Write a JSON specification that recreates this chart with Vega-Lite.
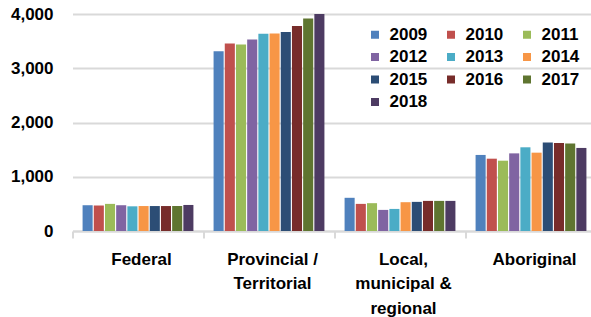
{
  "$schema": "https://vega.github.io/schema/vega-lite/v6.json",
  "width": 519,
  "height": 217,
  "autosize": "none",
  "padding": {"left": 72.5, "top": 14, "right": 0, "bottom": 86},
  "background": "white",
  "data": {
    "values": [
      {"sector": "Federal", "year": "2009", "value": 475},
      {"sector": "Federal", "year": "2010", "value": 470},
      {"sector": "Federal", "year": "2011", "value": 500},
      {"sector": "Federal", "year": "2012", "value": 475},
      {"sector": "Federal", "year": "2013", "value": 455},
      {"sector": "Federal", "year": "2014", "value": 460},
      {"sector": "Federal", "year": "2015", "value": 460},
      {"sector": "Federal", "year": "2016", "value": 460},
      {"sector": "Federal", "year": "2017", "value": 460},
      {"sector": "Federal", "year": "2018", "value": 480},
      {"sector": "Provincial /|Territorial", "year": "2009", "value": 3315},
      {"sector": "Provincial /|Territorial", "year": "2010", "value": 3455},
      {"sector": "Provincial /|Territorial", "year": "2011", "value": 3437},
      {"sector": "Provincial /|Territorial", "year": "2012", "value": 3529},
      {"sector": "Provincial /|Territorial", "year": "2013", "value": 3634},
      {"sector": "Provincial /|Territorial", "year": "2014", "value": 3640},
      {"sector": "Provincial /|Territorial", "year": "2015", "value": 3670},
      {"sector": "Provincial /|Territorial", "year": "2016", "value": 3781},
      {"sector": "Provincial /|Territorial", "year": "2017", "value": 3915},
      {"sector": "Provincial /|Territorial", "year": "2018", "value": 4000},
      {"sector": "Local,|municipal &|regional", "year": "2009", "value": 612},
      {"sector": "Local,|municipal &|regional", "year": "2010", "value": 500},
      {"sector": "Local,|municipal &|regional", "year": "2011", "value": 513},
      {"sector": "Local,|municipal &|regional", "year": "2012", "value": 389},
      {"sector": "Local,|municipal &|regional", "year": "2013", "value": 407},
      {"sector": "Local,|municipal &|regional", "year": "2014", "value": 531},
      {"sector": "Local,|municipal &|regional", "year": "2015", "value": 537},
      {"sector": "Local,|municipal &|regional", "year": "2016", "value": 555},
      {"sector": "Local,|municipal &|regional", "year": "2017", "value": 555},
      {"sector": "Local,|municipal &|regional", "year": "2018", "value": 555},
      {"sector": "Aboriginal", "year": "2009", "value": 1402},
      {"sector": "Aboriginal", "year": "2010", "value": 1333},
      {"sector": "Aboriginal", "year": "2011", "value": 1296},
      {"sector": "Aboriginal", "year": "2012", "value": 1431},
      {"sector": "Aboriginal", "year": "2013", "value": 1543},
      {"sector": "Aboriginal", "year": "2014", "value": 1444},
      {"sector": "Aboriginal", "year": "2015", "value": 1630},
      {"sector": "Aboriginal", "year": "2016", "value": 1624},
      {"sector": "Aboriginal", "year": "2017", "value": 1611},
      {"sector": "Aboriginal", "year": "2018", "value": 1531}
    ]
  },
  "mark": {"type": "bar"},
  "encoding": {
    "x": {
      "field": "sector",
      "type": "nominal",
      "sort": ["Federal", "Provincial /|Territorial", "Local,|municipal &|regional", "Aboriginal"],
      "scale": {"range": [0, 524], "paddingInner": 0, "paddingOuter": 0},
      "axis": {
        "title": null,
        "labelAngle": 0,
        "labelExpr": "split(datum.label, '|')",
        "labelFont": "Liberation Sans",
        "labelFontSize": 17,
        "labelFontWeight": "bold",
        "labelColor": "#000000",
        "labelLineHeight": 24.5,
        "labelPadding": 13,
        "labelOffset": 3,
        "labelBaseline": "top",
        "tickBand": "extent",
        "tickSize": 7,
        "tickWidth": 2,
        "tickColor": "#d9d9d9",
        "domainColor": "#d9d9d9",
        "domainWidth": 2,
        "grid": false
      }
    },
    "xOffset": {
      "field": "year",
      "type": "nominal",
      "scale": {"paddingInner": 0.1, "paddingOuter": 0.9}
    },
    "y": {
      "field": "value",
      "type": "quantitative",
      "scale": {"domain": [0, 4000], "nice": false},
      "axis": {
        "title": null,
        "values": [0, 1000, 2000, 3000, 4000],
        "format": ",.0f",
        "domain": false,
        "ticks": false,
        "labelFont": "Liberation Sans",
        "labelFontSize": 17,
        "labelFontWeight": "bold",
        "labelColor": "#000000",
        "labelPadding": 19.5,
        "gridColor": "#d9d9d9",
        "gridWidth": 2
      }
    },
    "color": {
      "field": "year",
      "type": "nominal",
      "scale": {
        "domain": ["2009", "2010", "2011", "2012", "2013", "2014", "2015", "2016", "2017", "2018"],
        "range": ["#4F81BD", "#C0504D", "#9BBB59", "#8064A2", "#4BACC6", "#F79646", "#2C4D75", "#772C2A", "#5F7530", "#4D3B62"]
      },
      "legend": {
        "title": null,
        "orient": "none",
        "legendX": 294,
        "legendY": 12,
        "columns": 3,
        "direction": "horizontal",
        "symbolType": "square",
        "symbolSize": 64,
        "symbolStrokeWidth": 0,
        "labelFont": "Liberation Sans",
        "labelFontSize": 17,
        "labelFontWeight": "bold",
        "labelColor": "#000000",
        "labelOffset": 6,
        "columnPadding": 15,
        "rowPadding": 4.5,
        "gridAlign": "all",
        "padding": 0
      }
    }
  },
  "config": {
    "view": {"stroke": null}
  }
}
